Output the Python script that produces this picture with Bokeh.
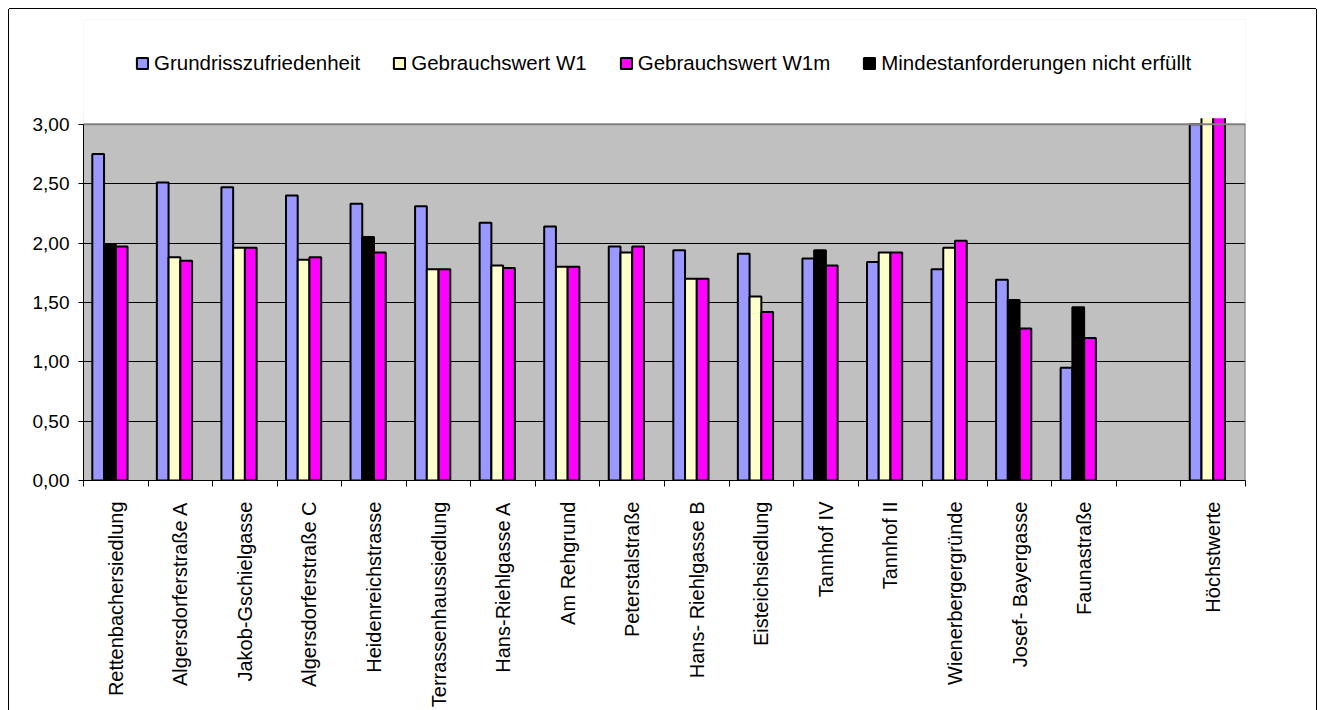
import math
from bokeh.plotting import figure
from bokeh.models import ColumnDataSource, Range1d, FixedTicker, Legend, LegendItem
from bokeh.transform import dodge
from bokeh.embed import file_html
from bokeh.resources import INLINE

NaN = float("nan")

categories = ["Rettenbachersiedlung", "Algersdorferstraße A", "Jakob-Gschielgasse",
              "Algersdorferstraße C", "Heidenreichstrasse", "Terrassenhaussiedlung",
              "Hans-Riehlgasse A", "Am Rehgrund", "Peterstalstraße", "Hans- Riehlgasse B",
              "Eisteichsiedlung", "Tannhof IV", "Tannhof II", "Wienerbergergründe",
              "Josef- Bayergasse", "Faunastraße", "", "Höchstwerte"]
grundriss = [2.75, 2.51, 2.47, 2.40, 2.33, 2.31, 2.17, 2.14, 1.97, 1.94, 1.91, 1.87, 1.84, 1.78, 1.69, 0.95, NaN, 3.00]
w1 =        [NaN, 1.88, 1.96, 1.86, NaN, 1.78, 1.81, 1.80, 1.92, 1.70, 1.55, NaN, 1.92, 1.96, NaN, NaN, NaN, 3.10]
w1m =       [1.97, 1.85, 1.96, 1.88, 1.92, 1.78, 1.79, 1.80, 1.97, 1.70, 1.42, 1.81, 1.92, 2.02, 1.28, 1.20, NaN, 3.10]
mindest =   [1.99, NaN, NaN, NaN, 2.05, NaN, NaN, NaN, NaN, NaN, NaN, 1.94, NaN, NaN, 1.52, 1.46, NaN, NaN]
series_names = ["Grundrisszufriedenheit", "Gebrauchswert W1", "Gebrauchswert W1m",
                "Mindestanforderungen nicht erfüllt"]
yticks = [0.0, 0.5, 1.0, 1.5, 2.0, 2.5, 3.0]

FONT = "Liberation Sans"
n = len(categories)
y_top = 3.0        # axis maximum
y_clip = 3.05      # where the over-tall bars are cut, as in the reference

FIG_W, FIG_H = 1307, 701
B_LEFT, B_RIGHT, B_TOP, B_BOTTOM = 74, 71, 10, 229
frame_h = FIG_H - B_TOP - B_BOTTOM
plot_area_px = 357  # pixel height of 0..3
y_end = y_top * frame_h / plot_area_px

src = ColumnDataSource(dict(x=[i + 0.5 for i in range(n)], grund=grundriss, w1=w1,
                            w1m=w1m, mindest=mindest))

p = figure(width=FIG_W, height=FIG_H, x_range=Range1d(0, n), y_range=Range1d(0, y_end),
           output_backend="svg", toolbar_location=None, title=None,
           min_border_left=B_LEFT, min_border_right=B_RIGHT, min_border_top=B_TOP,
           min_border_bottom=B_BOTTOM)
p.margin = (9, 0, 0, 9)
p.styles = {"box-shadow": "-1px 0 0 0 #000, 1px 0 0 0 #000, 0 -1px 0 0 #000"}
p.background_fill_color = "#C0C0C0"
p.border_fill_color = "white"
p.outline_line_color = None

# white area above the plot area
p.quad(left=-1, right=n + 1, bottom=y_top, top=y_end + 1, fill_color="white", line_color=None)

bw = 1 / 5.5
common = dict(width=bw, source=src, line_color="black", line_width=2)
r1 = p.vbar(x=dodge("x", -1.5 * bw), top="grund", fill_color="#9999FF", **common)
r2 = p.vbar(x=dodge("x", -0.5 * bw), top="w1", fill_color="#FFFFCC", **common)
r3 = p.vbar(x=dodge("x", 0.5 * bw), top="w1m", fill_color="#FF00FF", **common)
r4 = p.vbar(x=dodge("x", -0.5 * bw), top="mindest", fill_color="#000000", **common)

# cut bars that exceed the chart top
p.quad(left=-1, right=n + 1, bottom=y_clip, top=y_end + 1, fill_color="white", line_color=None)

# plot-area border (top and right)
p.segment(x0=[0, n], y0=[y_top, 0], x1=[n, n], y1=[y_top, y_top],
          line_color="#808080", line_width=2)

# x axis
xa = p.xaxis[0]
xa.ticker = FixedTicker(ticks=[i + 0.5 for i, c in enumerate(categories) if c],
                        minor_ticks=list(range(n + 1)))
xa.major_label_overrides = {i + 0.5: c for i, c in enumerate(categories) if c}
xa.major_label_orientation = math.pi / 2
xa.major_tick_line_color = None
xa.major_tick_out = 0
xa.major_tick_in = 0
xa.minor_tick_line_color = "black"
xa.minor_tick_out = 6
xa.minor_tick_in = 0
xa.major_label_standoff = 15
xa.major_label_text_font = FONT
xa.major_label_text_font_size = "20px"
xa.major_label_text_color = "black"
xa.axis_line_color = "black"

# y axis
ya = p.yaxis[0]
ya.ticker = FixedTicker(ticks=yticks)
ya.major_label_overrides = {t: f"{t:.2f}".replace(".", ",") for t in yticks}
ya.bounds = (0, y_top)
ya.major_tick_out = 5
ya.major_tick_in = 0
ya.minor_tick_line_color = None
ya.major_label_standoff = 9
ya.major_label_text_font = FONT
ya.major_label_text_font_size = "19px"
ya.major_label_text_color = "black"
ya.axis_line_color = "black"

p.xgrid.grid_line_color = None
p.ygrid.grid_line_color = "black"
p.ygrid.grid_line_width = 1

legend = Legend(items=[LegendItem(label=series_names[0], renderers=[r1]),
                       LegendItem(label=series_names[1], renderers=[r2]),
                       LegendItem(label=series_names[2], renderers=[r3]),
                       LegendItem(label=series_names[3], renderers=[r4])],
                orientation="horizontal", location=(52, 405))
legend.label_text_font = FONT
legend.label_text_font_size = "20.5px"
legend.label_text_color = "black"
legend.glyph_width = 14
legend.glyph_height = 14
legend.label_standoff = 5
legend.spacing = 32
legend.padding = 0
legend.margin = 0
legend.background_fill_alpha = 0
legend.border_line_color = None
p.add_layout(legend)

open("out.html", "w").write(file_html(p, INLINE))
